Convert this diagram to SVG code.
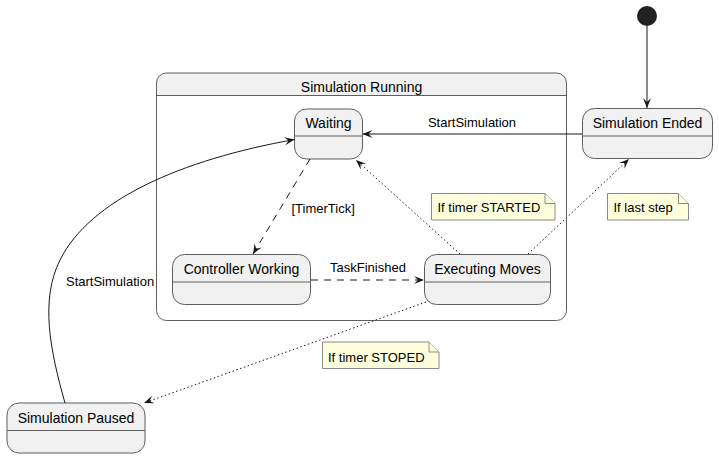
<svg xmlns="http://www.w3.org/2000/svg" width="719" height="459" viewBox="0 0 719 459">
<style>
.st{fill:#F1F1F1;stroke:#5f5f5f;stroke-width:1}
.dv{stroke:#5f5f5f;stroke-width:1}
.t14{font-family:"Liberation Sans",Arial,sans-serif;font-size:14px;fill:#000;text-anchor:middle}
.t13{font-family:"Liberation Sans",Arial,sans-serif;font-size:13px;fill:#000}
.mid{text-anchor:middle}
.note{fill:#FEFFDD;stroke:#8a8a8a;stroke-width:1}
.e{fill:none;stroke:#181818;stroke-width:1;marker-end:url(#ah)}
.dash{stroke-dasharray:7,6}
.dot{stroke-dasharray:1.5,2.5}
</style>
<defs>
<marker id="ah" markerUnits="userSpaceOnUse" markerWidth="11" markerHeight="10" refX="10" refY="4" orient="auto">
<path d="M0,0 L10,4 L0,8 L4,4 Z" fill="#181818"/>
</marker>
</defs>
<rect width="719" height="459" fill="#fff"/>

<g id="simulation-running">
<path d="M156.5,95.5 V83 Q156.5,73 166.5,73 H556.5 Q566.5,73 566.5,83 V95.5 Z" fill="#F1F1F1"/>
<rect x="156.5" y="73" width="410" height="247.5" rx="10" ry="10" fill="none" stroke="#5f5f5f"/>
<line x1="156.5" y1="95.5" x2="566.5" y2="95.5" class="dv"/>
<text x="361.5" y="92" class="t14">Simulation Running</text>
</g>

<g id="initial">
<circle cx="647" cy="16" r="10" fill="#222"/>
</g>

<g id="waiting">
<rect x="294.5" y="109" width="68" height="50" rx="12" ry="12" class="st"/>
<line x1="294.5" y1="136" x2="362.5" y2="136" class="dv"/>
<text x="328.5" y="128" class="t14">Waiting</text>
</g>

<g id="simulation-ended">
<rect x="582.5" y="108.5" width="130" height="50" rx="12" ry="12" class="st"/>
<line x1="582.5" y1="136" x2="712.5" y2="136" class="dv"/>
<text x="647.5" y="128" class="t14">Simulation Ended</text>
</g>

<g id="controller-working">
<rect x="172.5" y="254.5" width="138" height="50" rx="12" ry="12" class="st"/>
<line x1="172.5" y1="282" x2="310.5" y2="282" class="dv"/>
<text x="241.5" y="274" class="t14">Controller Working</text>
</g>

<g id="executing-moves">
<rect x="424.5" y="254.5" width="126" height="50" rx="12" ry="12" class="st"/>
<line x1="424.5" y1="282" x2="550.5" y2="282" class="dv"/>
<text x="487.5" y="274" class="t14">Executing Moves</text>
</g>

<g id="simulation-paused">
<rect x="7" y="403" width="138" height="50" rx="12" ry="12" class="st"/>
<line x1="7" y1="430.5" x2="145" y2="430.5" class="dv"/>
<text x="76" y="423" class="t14">Simulation Paused</text>
</g>

<g id="note-started">
<path d="M431.5,193.5 H545 L555,203.5 V220 H431.5 Z" class="note"/>
<path d="M545,193.5 V203.5 H555" class="note"/>
<text x="437.5" y="211.5" class="t13">If timer STARTED</text>
</g>

<g id="note-last-step">
<path d="M607.5,193.5 H678.5 L688.5,203.5 V220 H607.5 Z" class="note"/>
<path d="M678.5,193.5 V203.5 H688.5" class="note"/>
<text x="613.5" y="211.5" class="t13">If last step</text>
</g>

<g id="note-stoped">
<path d="M322.5,342 H429 L439,352 V368.5 H322.5 Z" class="note"/>
<path d="M429,342 V352 H439" class="note"/>
<text x="328" y="361.5" class="t13">If timer STOPED</text>
</g>

<g id="connectors">
<line x1="647" y1="26" x2="647" y2="108" class="e"/>
<line x1="582" y1="134" x2="362.5" y2="134" class="e"/>
<text x="472" y="126.5" class="t13 mid">StartSimulation</text>
<line x1="310" y1="159" x2="253" y2="254" class="e dash"/>
<text x="291.5" y="212.5" class="t13">[TimerTick]</text>
<line x1="311" y1="280" x2="424" y2="280" class="e dash"/>
<text x="368" y="272" class="t13 mid">TaskFinished</text>
<line x1="460" y1="254" x2="356" y2="160" class="e dot"/>
<line x1="528" y1="254" x2="629" y2="159" class="e dot"/>
<line x1="426" y1="302" x2="144" y2="403" class="e dot"/>
<path d="M65,403 C50,350 40,300 60,260 C90,200 180,160 294.5,139.5" class="e"/>
<text x="66" y="286" class="t13">StartSimulation</text>
</g>
</svg>
